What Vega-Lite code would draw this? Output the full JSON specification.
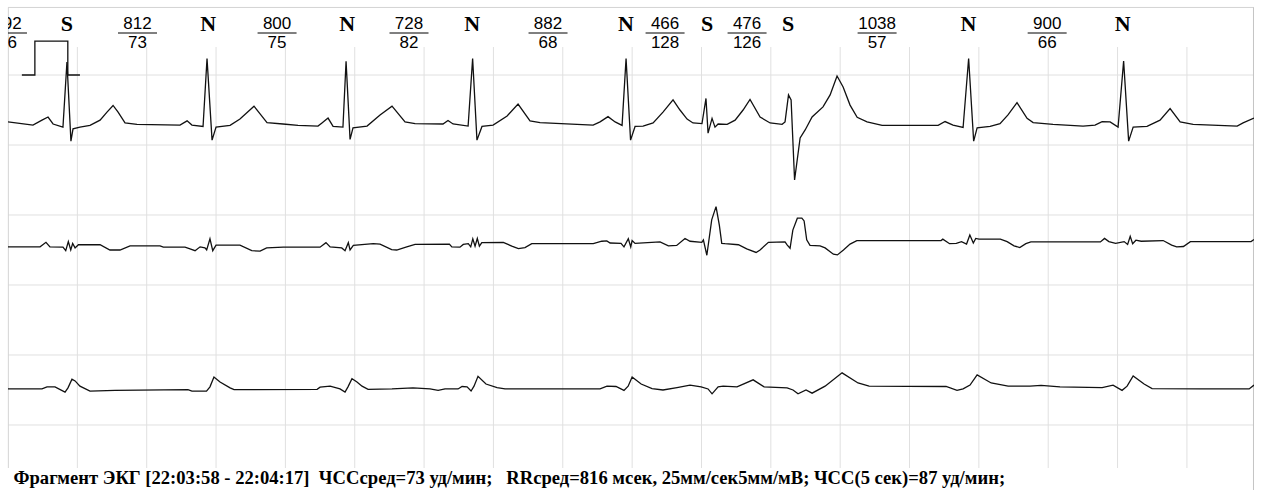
{
  "$schema": "https://vega.github.io/schema/vega-lite/v6.json",
  "width": 1246,
  "height": 484,
  "autosize": {"type": "none"},
  "padding": {"left": 8, "top": 7, "right": 8, "bottom": 0},
  "background": "white",
  "config": {"view": {"stroke": null}},
  "datasets": {
    "hgrid": [{"g": 0}, {"g": 2}, {"g": 4}, {"g": 6}, {"g": 8}, {"g": 10}],
    "vgrid": [{"g": 400}, {"g": 800}, {"g": 1200}, {"g": 1600}, {"g": 2000}, {"g": 2400}, {"g": 2800}, {"g": 3200}, {"g": 3600}, {"g": 4000}, {"g": 4400}, {"g": 4800}, {"g": 5200}, {"g": 5600}, {"g": 6000}, {"g": 6400}, {"g": 6800}],
    "cal": [{"i": 0, "t": 80, "v": 10}, {"i": 1, "t": 155, "v": 10}, {"i": 2, "t": 155, "v": 10.97}, {"i": 3, "t": 345, "v": 10.97}, {"i": 4, "t": 345, "v": 10}, {"i": 5, "t": 415, "v": 10}],
    "beats": [{"t": 340, "b": "S"}, {"t": 1154, "b": "N"}, {"t": 1956, "b": "N"}, {"t": 2677, "b": "N"}, {"t": 3565, "b": "N"}, {"t": 4032, "b": "S"}, {"t": 4500, "b": "S"}, {"t": 5540, "b": "N"}, {"t": 6430, "b": "N"}],
    "rr": [{"t": -3, "num": "792", "den": "76"}, {"t": 747, "num": "812", "den": "73"}, {"t": 1552, "num": "800", "den": "75"}, {"t": 2313, "num": "728", "den": "82"}, {"t": 3115, "num": "882", "den": "68"}, {"t": 3790, "num": "466", "den": "128"}, {"t": 4263, "num": "476", "den": "126"}, {"t": 5013, "num": "1038", "den": "57"}, {"t": 5994, "num": "900", "den": "66"}],
    "ecg": [
      {"l": 1, "t": 0, "v": 8.66}, {"l": 1, "t": 144, "v": 8.57}, {"l": 1, "t": 196, "v": 8.71}, {"l": 1, "t": 231, "v": 8.8}, {"l": 1, "t": 260, "v": 8.6}, {"l": 1, "t": 317, "v": 8.51}, {"l": 1, "t": 340, "v": 10.37}, {"l": 1, "t": 363, "v": 8.11}, {"l": 1, "t": 375, "v": 8.46}, {"l": 1, "t": 415, "v": 8.51}, {"l": 1, "t": 473, "v": 8.56}, {"l": 1, "t": 531, "v": 8.71}, {"l": 1, "t": 571, "v": 8.94}, {"l": 1, "t": 606, "v": 9.13}, {"l": 1, "t": 635, "v": 8.94}, {"l": 1, "t": 675, "v": 8.63}, {"l": 1, "t": 744, "v": 8.59}, {"l": 1, "t": 992, "v": 8.57}, {"l": 1, "t": 1033, "v": 8.69}, {"l": 1, "t": 1061, "v": 8.57}, {"l": 1, "t": 1125, "v": 8.53}, {"l": 1, "t": 1148, "v": 10.47}, {"l": 1, "t": 1177, "v": 8.14}, {"l": 1, "t": 1200, "v": 8.51}, {"l": 1, "t": 1281, "v": 8.56}, {"l": 1, "t": 1338, "v": 8.74}, {"l": 1, "t": 1419, "v": 9.11}, {"l": 1, "t": 1454, "v": 8.89}, {"l": 1, "t": 1494, "v": 8.64}, {"l": 1, "t": 1586, "v": 8.6}, {"l": 1, "t": 1673, "v": 8.56}, {"l": 1, "t": 1788, "v": 8.54}, {"l": 1, "t": 1811, "v": 8.63}, {"l": 1, "t": 1846, "v": 8.77}, {"l": 1, "t": 1875, "v": 8.53}, {"l": 1, "t": 1932, "v": 8.51}, {"l": 1, "t": 1950, "v": 10.39}, {"l": 1, "t": 1973, "v": 8.16}, {"l": 1, "t": 1990, "v": 8.49}, {"l": 1, "t": 2071, "v": 8.54}, {"l": 1, "t": 2146, "v": 8.86}, {"l": 1, "t": 2215, "v": 9.11}, {"l": 1, "t": 2290, "v": 8.66}, {"l": 1, "t": 2348, "v": 8.61}, {"l": 1, "t": 2509, "v": 8.6}, {"l": 1, "t": 2538, "v": 8.7}, {"l": 1, "t": 2567, "v": 8.6}, {"l": 1, "t": 2654, "v": 8.54}, {"l": 1, "t": 2680, "v": 10.47}, {"l": 1, "t": 2705, "v": 8.14}, {"l": 1, "t": 2734, "v": 8.53}, {"l": 1, "t": 2798, "v": 8.57}, {"l": 1, "t": 2879, "v": 8.83}, {"l": 1, "t": 2942, "v": 9.17}, {"l": 1, "t": 3011, "v": 8.69}, {"l": 1, "t": 3069, "v": 8.64}, {"l": 1, "t": 3282, "v": 8.59}, {"l": 1, "t": 3375, "v": 8.57}, {"l": 1, "t": 3415, "v": 8.66}, {"l": 1, "t": 3461, "v": 8.81}, {"l": 1, "t": 3502, "v": 8.66}, {"l": 1, "t": 3542, "v": 8.56}, {"l": 1, "t": 3565, "v": 10.47}, {"l": 1, "t": 3591, "v": 8.14}, {"l": 1, "t": 3617, "v": 8.53}, {"l": 1, "t": 3663, "v": 8.54}, {"l": 1, "t": 3721, "v": 8.63}, {"l": 1, "t": 3778, "v": 8.94}, {"l": 1, "t": 3836, "v": 9.29}, {"l": 1, "t": 3876, "v": 9.0}, {"l": 1, "t": 3917, "v": 8.74}, {"l": 1, "t": 3951, "v": 8.63}, {"l": 1, "t": 4003, "v": 8.61}, {"l": 1, "t": 4026, "v": 9.33}, {"l": 1, "t": 4038, "v": 8.34}, {"l": 1, "t": 4061, "v": 8.76}, {"l": 1, "t": 4078, "v": 8.51}, {"l": 1, "t": 4096, "v": 8.6}, {"l": 1, "t": 4148, "v": 8.59}, {"l": 1, "t": 4194, "v": 8.71}, {"l": 1, "t": 4240, "v": 9.0}, {"l": 1, "t": 4280, "v": 9.3}, {"l": 1, "t": 4338, "v": 8.8}, {"l": 1, "t": 4396, "v": 8.63}, {"l": 1, "t": 4465, "v": 8.59}, {"l": 1, "t": 4482, "v": 8.66}, {"l": 1, "t": 4502, "v": 9.43}, {"l": 1, "t": 4517, "v": 9.29}, {"l": 1, "t": 4537, "v": 7.0}, {"l": 1, "t": 4569, "v": 8.2}, {"l": 1, "t": 4598, "v": 8.43}, {"l": 1, "t": 4638, "v": 8.8}, {"l": 1, "t": 4701, "v": 9.09}, {"l": 1, "t": 4742, "v": 9.43}, {"l": 1, "t": 4782, "v": 9.97}, {"l": 1, "t": 4817, "v": 9.66}, {"l": 1, "t": 4857, "v": 9.14}, {"l": 1, "t": 4898, "v": 8.79}, {"l": 1, "t": 4955, "v": 8.66}, {"l": 1, "t": 5042, "v": 8.56}, {"l": 1, "t": 5365, "v": 8.56}, {"l": 1, "t": 5405, "v": 8.67}, {"l": 1, "t": 5451, "v": 8.57}, {"l": 1, "t": 5509, "v": 8.5}, {"l": 1, "t": 5541, "v": 10.47}, {"l": 1, "t": 5570, "v": 8.11}, {"l": 1, "t": 5590, "v": 8.49}, {"l": 1, "t": 5665, "v": 8.53}, {"l": 1, "t": 5722, "v": 8.61}, {"l": 1, "t": 5768, "v": 8.86}, {"l": 1, "t": 5820, "v": 9.21}, {"l": 1, "t": 5878, "v": 8.76}, {"l": 1, "t": 5913, "v": 8.64}, {"l": 1, "t": 6028, "v": 8.59}, {"l": 1, "t": 6201, "v": 8.54}, {"l": 1, "t": 6270, "v": 8.57}, {"l": 1, "t": 6311, "v": 8.67}, {"l": 1, "t": 6357, "v": 8.66}, {"l": 1, "t": 6403, "v": 8.51}, {"l": 1, "t": 6435, "v": 10.4}, {"l": 1, "t": 6464, "v": 8.11}, {"l": 1, "t": 6490, "v": 8.51}, {"l": 1, "t": 6570, "v": 8.53}, {"l": 1, "t": 6645, "v": 8.71}, {"l": 1, "t": 6703, "v": 9.04}, {"l": 1, "t": 6761, "v": 8.66}, {"l": 1, "t": 6836, "v": 8.59}, {"l": 1, "t": 7090, "v": 8.54}, {"l": 1, "t": 7124, "v": 8.63}, {"l": 1, "t": 7187, "v": 8.77},
      {"l": 2, "t": 0, "v": 5.09}, {"l": 2, "t": 185, "v": 5.09}, {"l": 2, "t": 219, "v": 5.22}, {"l": 2, "t": 242, "v": 5.09}, {"l": 2, "t": 317, "v": 5.08}, {"l": 2, "t": 333, "v": 4.98}, {"l": 2, "t": 348, "v": 5.24}, {"l": 2, "t": 362, "v": 5.0}, {"l": 2, "t": 373, "v": 5.19}, {"l": 2, "t": 387, "v": 5.06}, {"l": 2, "t": 406, "v": 5.15}, {"l": 2, "t": 531, "v": 5.15}, {"l": 2, "t": 588, "v": 5.0}, {"l": 2, "t": 646, "v": 5.0}, {"l": 2, "t": 704, "v": 5.12}, {"l": 2, "t": 877, "v": 5.12}, {"l": 2, "t": 896, "v": 5.08}, {"l": 2, "t": 1021, "v": 5.08}, {"l": 2, "t": 1050, "v": 5.03}, {"l": 2, "t": 1079, "v": 4.98}, {"l": 2, "t": 1108, "v": 5.09}, {"l": 2, "t": 1136, "v": 5.06}, {"l": 2, "t": 1146, "v": 5.0}, {"l": 2, "t": 1165, "v": 5.32}, {"l": 2, "t": 1181, "v": 4.98}, {"l": 2, "t": 1200, "v": 5.14}, {"l": 2, "t": 1338, "v": 5.14}, {"l": 2, "t": 1406, "v": 4.98}, {"l": 2, "t": 1454, "v": 4.97}, {"l": 2, "t": 1492, "v": 5.06}, {"l": 2, "t": 1588, "v": 5.08}, {"l": 2, "t": 1800, "v": 5.08}, {"l": 2, "t": 1834, "v": 5.21}, {"l": 2, "t": 1858, "v": 5.09}, {"l": 2, "t": 1925, "v": 5.06}, {"l": 2, "t": 1944, "v": 4.98}, {"l": 2, "t": 1963, "v": 5.21}, {"l": 2, "t": 1973, "v": 5.0}, {"l": 2, "t": 1992, "v": 5.13}, {"l": 2, "t": 2107, "v": 5.18}, {"l": 2, "t": 2146, "v": 5.17}, {"l": 2, "t": 2213, "v": 5.01}, {"l": 2, "t": 2242, "v": 5.0}, {"l": 2, "t": 2300, "v": 5.09}, {"l": 2, "t": 2348, "v": 5.16}, {"l": 2, "t": 2546, "v": 5.17}, {"l": 2, "t": 2560, "v": 5.09}, {"l": 2, "t": 2607, "v": 5.08}, {"l": 2, "t": 2626, "v": 5.16}, {"l": 2, "t": 2655, "v": 5.18}, {"l": 2, "t": 2669, "v": 5.09}, {"l": 2, "t": 2681, "v": 5.32}, {"l": 2, "t": 2694, "v": 5.11}, {"l": 2, "t": 2707, "v": 5.33}, {"l": 2, "t": 2719, "v": 5.11}, {"l": 2, "t": 2733, "v": 5.21}, {"l": 2, "t": 2857, "v": 5.22}, {"l": 2, "t": 2906, "v": 5.11}, {"l": 2, "t": 2944, "v": 5.04}, {"l": 2, "t": 2982, "v": 5.07}, {"l": 2, "t": 3021, "v": 5.18}, {"l": 2, "t": 3376, "v": 5.18}, {"l": 2, "t": 3425, "v": 5.25}, {"l": 2, "t": 3454, "v": 5.26}, {"l": 2, "t": 3473, "v": 5.2}, {"l": 2, "t": 3536, "v": 5.19}, {"l": 2, "t": 3553, "v": 5.09}, {"l": 2, "t": 3578, "v": 5.32}, {"l": 2, "t": 3592, "v": 5.09}, {"l": 2, "t": 3600, "v": 5.27}, {"l": 2, "t": 3617, "v": 5.19}, {"l": 2, "t": 3761, "v": 5.23}, {"l": 2, "t": 3809, "v": 5.12}, {"l": 2, "t": 3857, "v": 5.13}, {"l": 2, "t": 3905, "v": 5.33}, {"l": 2, "t": 3934, "v": 5.25}, {"l": 2, "t": 4002, "v": 5.22}, {"l": 2, "t": 4011, "v": 5.29}, {"l": 2, "t": 4031, "v": 4.85}, {"l": 2, "t": 4059, "v": 5.86}, {"l": 2, "t": 4084, "v": 6.24}, {"l": 2, "t": 4103, "v": 5.71}, {"l": 2, "t": 4117, "v": 5.19}, {"l": 2, "t": 4136, "v": 5.18}, {"l": 2, "t": 4213, "v": 5.15}, {"l": 2, "t": 4261, "v": 5.03}, {"l": 2, "t": 4315, "v": 4.93}, {"l": 2, "t": 4338, "v": 5.0}, {"l": 2, "t": 4386, "v": 5.22}, {"l": 2, "t": 4482, "v": 5.23}, {"l": 2, "t": 4495, "v": 5.14}, {"l": 2, "t": 4511, "v": 5.05}, {"l": 2, "t": 4527, "v": 5.57}, {"l": 2, "t": 4553, "v": 5.91}, {"l": 2, "t": 4579, "v": 5.91}, {"l": 2, "t": 4592, "v": 5.83}, {"l": 2, "t": 4607, "v": 5.29}, {"l": 2, "t": 4626, "v": 5.13}, {"l": 2, "t": 4684, "v": 5.12}, {"l": 2, "t": 4713, "v": 5.06}, {"l": 2, "t": 4761, "v": 4.88}, {"l": 2, "t": 4784, "v": 4.86}, {"l": 2, "t": 4819, "v": 5.0}, {"l": 2, "t": 4857, "v": 5.17}, {"l": 2, "t": 4896, "v": 5.27}, {"l": 2, "t": 5146, "v": 5.27}, {"l": 2, "t": 5382, "v": 5.27}, {"l": 2, "t": 5392, "v": 5.31}, {"l": 2, "t": 5431, "v": 5.18}, {"l": 2, "t": 5470, "v": 5.19}, {"l": 2, "t": 5500, "v": 5.24}, {"l": 2, "t": 5529, "v": 5.17}, {"l": 2, "t": 5548, "v": 5.43}, {"l": 2, "t": 5568, "v": 5.2}, {"l": 2, "t": 5582, "v": 5.33}, {"l": 2, "t": 5601, "v": 5.31}, {"l": 2, "t": 5724, "v": 5.31}, {"l": 2, "t": 5763, "v": 5.24}, {"l": 2, "t": 5803, "v": 5.12}, {"l": 2, "t": 5836, "v": 5.07}, {"l": 2, "t": 5871, "v": 5.18}, {"l": 2, "t": 5900, "v": 5.23}, {"l": 2, "t": 6301, "v": 5.23}, {"l": 2, "t": 6325, "v": 5.33}, {"l": 2, "t": 6350, "v": 5.24}, {"l": 2, "t": 6389, "v": 5.19}, {"l": 2, "t": 6438, "v": 5.24}, {"l": 2, "t": 6458, "v": 5.16}, {"l": 2, "t": 6473, "v": 5.39}, {"l": 2, "t": 6487, "v": 5.18}, {"l": 2, "t": 6506, "v": 5.28}, {"l": 2, "t": 6536, "v": 5.25}, {"l": 2, "t": 6663, "v": 5.27}, {"l": 2, "t": 6712, "v": 5.14}, {"l": 2, "t": 6741, "v": 5.09}, {"l": 2, "t": 6780, "v": 5.1}, {"l": 2, "t": 6820, "v": 5.24}, {"l": 2, "t": 7170, "v": 5.24}, {"l": 2, "t": 7187, "v": 5.3},
      {"l": 3, "t": 0, "v": 1.03}, {"l": 3, "t": 196, "v": 1.03}, {"l": 3, "t": 225, "v": 1.09}, {"l": 3, "t": 271, "v": 1.09}, {"l": 3, "t": 329, "v": 0.94}, {"l": 3, "t": 346, "v": 1.06}, {"l": 3, "t": 369, "v": 1.31}, {"l": 3, "t": 387, "v": 1.26}, {"l": 3, "t": 415, "v": 1.11}, {"l": 3, "t": 473, "v": 0.97}, {"l": 3, "t": 617, "v": 0.99}, {"l": 3, "t": 1038, "v": 1.01}, {"l": 3, "t": 1061, "v": 0.97}, {"l": 3, "t": 1145, "v": 0.97}, {"l": 3, "t": 1165, "v": 1.09}, {"l": 3, "t": 1188, "v": 1.37}, {"l": 3, "t": 1223, "v": 1.23}, {"l": 3, "t": 1281, "v": 1.06}, {"l": 3, "t": 1304, "v": 1.01}, {"l": 3, "t": 1783, "v": 1.02}, {"l": 3, "t": 1800, "v": 1.08}, {"l": 3, "t": 1858, "v": 1.11}, {"l": 3, "t": 1915, "v": 1.03}, {"l": 3, "t": 1944, "v": 0.94}, {"l": 3, "t": 1961, "v": 1.09}, {"l": 3, "t": 1984, "v": 1.32}, {"l": 3, "t": 2013, "v": 1.23}, {"l": 3, "t": 2042, "v": 1.11}, {"l": 3, "t": 2077, "v": 1.02}, {"l": 3, "t": 2215, "v": 1.03}, {"l": 3, "t": 2336, "v": 1.06}, {"l": 3, "t": 2434, "v": 1.03}, {"l": 3, "t": 2481, "v": 0.99}, {"l": 3, "t": 2521, "v": 1.03}, {"l": 3, "t": 2596, "v": 1.03}, {"l": 3, "t": 2619, "v": 1.1}, {"l": 3, "t": 2648, "v": 1.09}, {"l": 3, "t": 2671, "v": 0.97}, {"l": 3, "t": 2688, "v": 1.11}, {"l": 3, "t": 2711, "v": 1.39}, {"l": 3, "t": 2757, "v": 1.17}, {"l": 3, "t": 2821, "v": 1.07}, {"l": 3, "t": 2867, "v": 1.03}, {"l": 3, "t": 3415, "v": 1.03}, {"l": 3, "t": 3455, "v": 1.11}, {"l": 3, "t": 3507, "v": 1.1}, {"l": 3, "t": 3553, "v": 0.99}, {"l": 3, "t": 3577, "v": 1.11}, {"l": 3, "t": 3600, "v": 1.37}, {"l": 3, "t": 3652, "v": 1.17}, {"l": 3, "t": 3715, "v": 1.04}, {"l": 3, "t": 3778, "v": 1.0}, {"l": 3, "t": 3859, "v": 1.07}, {"l": 3, "t": 3934, "v": 1.14}, {"l": 3, "t": 3998, "v": 1.09}, {"l": 3, "t": 4038, "v": 1.03}, {"l": 3, "t": 4061, "v": 0.89}, {"l": 3, "t": 4096, "v": 1.09}, {"l": 3, "t": 4125, "v": 1.11}, {"l": 3, "t": 4205, "v": 1.09}, {"l": 3, "t": 4298, "v": 1.29}, {"l": 3, "t": 4361, "v": 1.09}, {"l": 3, "t": 4494, "v": 1.06}, {"l": 3, "t": 4528, "v": 1.0}, {"l": 3, "t": 4557, "v": 0.89}, {"l": 3, "t": 4603, "v": 1.0}, {"l": 3, "t": 4638, "v": 0.91}, {"l": 3, "t": 4713, "v": 1.11}, {"l": 3, "t": 4811, "v": 1.49}, {"l": 3, "t": 4903, "v": 1.2}, {"l": 3, "t": 4967, "v": 1.11}, {"l": 3, "t": 5411, "v": 1.1}, {"l": 3, "t": 5474, "v": 0.99}, {"l": 3, "t": 5509, "v": 1.03}, {"l": 3, "t": 5549, "v": 1.14}, {"l": 3, "t": 5590, "v": 1.43}, {"l": 3, "t": 5671, "v": 1.2}, {"l": 3, "t": 5769, "v": 1.11}, {"l": 3, "t": 5895, "v": 1.11}, {"l": 3, "t": 5959, "v": 1.13}, {"l": 3, "t": 6068, "v": 1.09}, {"l": 3, "t": 6311, "v": 1.07}, {"l": 3, "t": 6374, "v": 1.14}, {"l": 3, "t": 6426, "v": 0.99}, {"l": 3, "t": 6455, "v": 1.11}, {"l": 3, "t": 6490, "v": 1.4}, {"l": 3, "t": 6553, "v": 1.17}, {"l": 3, "t": 6599, "v": 1.04}, {"l": 3, "t": 6876, "v": 1.03}, {"l": 3, "t": 7159, "v": 1.03}, {"l": 3, "t": 7187, "v": 1.14}
    ]
  },
  "layer": [
    {
      "data": {"name": "hgrid"},
      "mark": {"type": "rule", "color": "#e0e0e0", "strokeWidth": 1},
      "encoding": {
        "y": {"field": "g", "type": "quantitative", "scale": {"domain": [-1.886, 11.943], "nice": false, "zero": false}, "axis": null},
        "x": {"datum": 0, "type": "quantitative", "scale": {"domain": [0, 7187], "nice": false, "zero": false}, "axis": null},
        "x2": {"datum": 7187}
      }
    },
    {
      "data": {"name": "vgrid"},
      "mark": {"type": "rule", "color": "#e0e0e0", "strokeWidth": 1},
      "encoding": {
        "x": {"field": "g", "type": "quantitative"},
        "y": {"datum": 10.8, "type": "quantitative"},
        "y2": {"datum": -1.229}
      }
    },
    {
      "data": {"values": [{}]},
      "mark": {"type": "rule", "color": "#d4d4d4", "strokeWidth": 1},
      "encoding": {
        "x": {"datum": 0, "type": "quantitative"},
        "x2": {"datum": 7187},
        "y": {"datum": 11.93, "type": "quantitative"}
      }
    },
    {
      "data": {"values": [{}]},
      "mark": {"type": "rule", "color": "#d4d4d4", "strokeWidth": 1},
      "encoding": {
        "x": {"datum": 2, "type": "quantitative"},
        "y": {"datum": 11.93, "type": "quantitative"},
        "y2": {"datum": -1.229}
      }
    },
    {
      "data": {"values": [{}]},
      "mark": {"type": "rule", "color": "#c4c4c4", "strokeWidth": 1},
      "encoding": {
        "x": {"datum": 7184, "type": "quantitative"},
        "y": {"datum": 11.93, "type": "quantitative"},
        "y2": {"datum": -1.886}
      }
    },
    {
      "data": {"name": "ecg"},
      "mark": {"type": "line", "color": "#111111", "strokeWidth": 1.3, "clip": true},
      "encoding": {
        "x": {"field": "t", "type": "quantitative"},
        "y": {"field": "v", "type": "quantitative"},
        "detail": {"field": "l", "type": "nominal"}
      }
    },
    {
      "data": {"name": "cal"},
      "mark": {"type": "line", "color": "#111111", "strokeWidth": 1.3},
      "encoding": {
        "x": {"field": "t", "type": "quantitative"},
        "y": {"field": "v", "type": "quantitative"},
        "order": {"field": "i", "type": "quantitative"}
      }
    },
    {
      "data": {"name": "beats"},
      "mark": {"type": "text", "font": "Liberation Serif", "fontWeight": "bold", "fontSize": 22, "align": "center", "baseline": "alphabetic", "color": "#000000"},
      "encoding": {
        "x": {"field": "t", "type": "quantitative"},
        "y": {"datum": 11.257, "type": "quantitative"},
        "text": {"field": "b"}
      }
    },
    {
      "data": {"name": "rr"},
      "mark": {"type": "text", "font": "Liberation Sans", "fontSize": 17, "align": "center", "baseline": "alphabetic", "color": "#000000", "clip": true},
      "encoding": {
        "x": {"field": "t", "type": "quantitative"},
        "y": {"datum": 11.314, "type": "quantitative"},
        "text": {"field": "num"}
      }
    },
    {
      "data": {"name": "rr"},
      "mark": {"type": "text", "font": "Liberation Sans", "fontSize": 17, "align": "center", "baseline": "alphabetic", "color": "#000000", "clip": true},
      "encoding": {
        "x": {"field": "t", "type": "quantitative"},
        "y": {"datum": 10.771, "type": "quantitative"},
        "text": {"field": "den"}
      }
    },
    {
      "data": {"name": "rr"},
      "mark": {"type": "point", "shape": "M-1,0L1,0", "size": 1521, "filled": false, "stroke": "#000000", "strokeWidth": 1, "opacity": 1, "clip": true},
      "encoding": {
        "x": {"field": "t", "type": "quantitative"},
        "y": {"datum": 11.2, "type": "quantitative"}
      }
    },
    {
      "data": {"values": [{"txt": "Фрагмент ЭКГ [22:03:58 - 22:04:17]\u00a0 ЧССсред=73 уд/мин;\u00a0\u00a0 RRсред=816 мсек, 25мм/сек5мм/мВ; ЧСС(5 сек)=87 уд/мин;"}]},
      "mark": {"type": "text", "font": "Liberation Serif", "fontWeight": "bold", "fontSize": 18.6, "align": "left", "baseline": "alphabetic", "color": "#000000"},
      "encoding": {
        "x": {"datum": 32, "type": "quantitative"},
        "y": {"datum": -1.686, "type": "quantitative"},
        "text": {"field": "txt"}
      }
    }
  ]
}
